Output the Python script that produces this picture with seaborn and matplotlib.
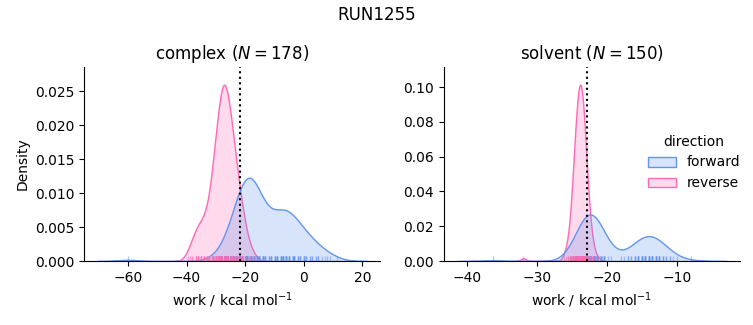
import numpy as np
import pandas as pd
import matplotlib
matplotlib.use("Agg")
import matplotlib.pyplot as plt
import seaborn as sns

phases = ["complex", "solvent"]
directions = ["forward", "reverse"]
palette = {"forward": "cornflowerblue", "reverse": "hotpink"}
title = "RUN1255"

# work values (kcal/mol) and how many samples sit at each value
complex_forward_values = [-60.1, -31.3, -29.2, -27.9, -27.1, -25.8, -25.2, -23.9, -23.2, -21.9,
                          -21.1, -19.8, -19.2, -17.9, -17.1, -15.8, -15.2, -13.9, -13.1, -11.8,
                          -11.2, -9.9, -9.1, -7.8, -7.2, -5.9, -5.1, -3.8, -3.2, -1.9,
                          -1.2, 0.1, 0.8, 2.1, 2.9, 4.1, 4.8, 6.1, 7.2, 8.1, 8.9, 11.3]
complex_forward_counts = [1, 1, 1, 1, 2, 2, 3, 5, 6, 7,
                          9, 11, 10, 11, 9, 7, 7, 6, 4, 3,
                          4, 4, 5, 6, 6, 6, 5, 5, 5, 3,
                          3, 4, 3, 2, 2, 2, 2, 1, 1, 1, 1, 1]

complex_reverse_values = [-39.6, -38.8, -38.1, -36.9, -36.2, -34.9, -34.1, -32.9, -32.2, -30.9,
                          -30.1, -28.9, -28.1, -27.0, -26.1, -24.9, -24.1, -22.9, -22.1, -20.9,
                          -20.2, -18.8, -18.2, -16.9]
complex_reverse_counts = [1, 1, 2, 3, 4, 4, 4, 5, 5, 10,
                          13, 14, 18, 20, 18, 14, 13, 9, 7, 6,
                          3, 2, 1, 1]

solvent_forward_values = [-36.3,
                          -24.9, -24.4, -23.9, -23.4, -22.9, -22.4, -21.9, -21.4, -20.9,
                          -20.4, -19.9, -19.4,
                          -18.0, -17.5, -17.0, -16.5, -16.0, -15.5, -15.0, -14.5, -14.0, -13.5,
                          -13.0, -12.5, -12.0, -11.5, -11.0, -10.5, -10.0, -8.0]
solvent_forward_counts = [1,
                          1, 4, 7, 10, 14, 16, 14, 10, 7,
                          5, 1, 1,
                          1, 1, 2, 2, 3, 5, 6, 6, 6, 6,
                          6, 5, 3, 2, 2, 1, 1, 1]

solvent_reverse_values = [-31.9, -26.1, -25.8, -25.55, -25.3, -25.05, -24.8, -24.55, -24.3, -24.05,
                          -23.8, -23.55, -23.3, -23.05, -22.8, -22.55, -22.3, -22.05, -21.8, -21.3]
solvent_reverse_counts = [1, 1, 1, 2, 3, 5, 9, 12, 15, 18,
                          18, 18, 15, 12, 8, 5, 3, 2, 1, 1]

# free energy estimates (dotted lines)
delta_g = {"complex": -21.7, "solvent": -22.85}

groups = [
    ("complex", "forward", complex_forward_values, complex_forward_counts),
    ("complex", "reverse", complex_reverse_values, complex_reverse_counts),
    ("solvent", "forward", solvent_forward_values, solvent_forward_counts),
    ("solvent", "reverse", solvent_reverse_values, solvent_reverse_counts),
]
frames = []
for phase, direction, vals, cnts in groups:
    w = np.repeat(np.asarray(vals, dtype=float), cnts)
    frames.append(pd.DataFrame({"work": w, "direction": direction, "phase": phase}))
df = pd.concat(frames, ignore_index=True)

g = sns.displot(data=df, x="work", hue="direction", col="phase", kind="kde",
                fill=True, rug=True, rug_kws=dict(alpha=0.5),
                hue_order=directions, col_order=phases,
                palette=palette, facet_kws=dict(sharex=False, sharey=False),
                height=3.25, aspect=1.0)

fig = g.figure
fig.set_size_inches(7.53, 3.25)
fig.subplots_adjust(left=0.1116, right=0.9827, bottom=0.1969, top=0.7938, wspace=0.213)

for ax, phase in zip(g.axes.flat, phases):
    n = int((df["phase"].eq(phase) & df["direction"].eq("forward")).sum())
    ax.axvline(delta_g[phase], color="k", ls=":")
    ax.set_title(f"{phase} ($N={n}$)")
    ax.set_xlabel("work / kcal mol$^{-1}$")

fig.suptitle(title)
sns.move_legend(g, "center right", bbox_to_anchor=(1.0, 0.5), frameon=False)

fig.savefig("out.png", dpi=100)
